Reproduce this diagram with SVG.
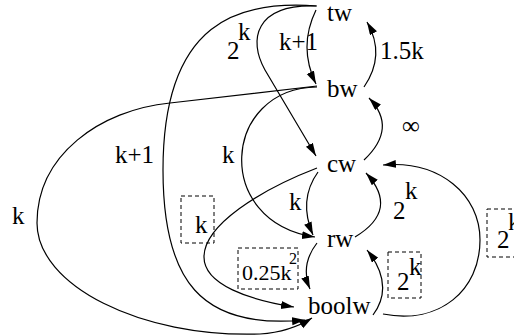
<svg xmlns="http://www.w3.org/2000/svg" width="514" height="335" viewBox="0 0 514 335">
<style>
text{font-family:"Liberation Serif","Times New Roman",serif;font-size:25px;fill:#000}
.sm{font-size:22px}
.sup2{font-size:16px}
.e{fill:none;stroke:#000;stroke-width:1.2;marker-end:url(#ah)}
.box{fill:none;stroke:#000;stroke-width:1;stroke-dasharray:4,3}
</style>
<defs>
<marker id="ah" markerUnits="userSpaceOnUse" markerWidth="14" markerHeight="9" refX="13" refY="4" orient="auto">
<path d="M0,0 L13,4 L0,8 z" fill="#000"/>
</marker>
</defs>
<rect width="514" height="335" fill="#fff"/>
<g id="connectors">
<path class="e" d="M316,10 Q298,47 316,84"/>
<path class="e" d="M364,87 Q386,55 367,22"/>
<path class="e" d="M364,160 Q398,128 369,98"/>
<path class="e" d="M316,6 C255,4 248,40 265,70 L316,156"/>
<path class="e" d="M317,6 C240,0 163,20 163,170 C163,280 200,330 305,320"/>
<path class="e" d="M317,86 L170,103 C100,110 37,155 37,223 C37,285 140,338 260,334 Q290,332 312,318"/>
<path class="e" d="M317,87 C222,88 212,222 315,237"/>
<path class="e" d="M317,168 C260,190 204,225 204,257 C204,285 250,300 294,307"/>
<path class="e" d="M318,172 Q298,200 313,235"/>
<path class="e" d="M355,237 Q400,210 366,173"/>
<path class="e" d="M317,243 Q300,265 310,289"/>
<path class="e" d="M373,315 Q395,285 367,250"/>
<path class="e" d="M383,314 C440,325 480,290 480,240 C480,195 440,160 383,165"/>
</g>
<g id="tw"><text x="327" y="21">tw</text></g>
<g id="bw"><text x="327" y="97">bw</text></g>
<g id="cw"><text x="327" y="172">cw</text></g>
<g id="rw"><text x="327" y="247">rw</text></g>
<g id="boolw"><text x="308" y="314">boolw</text></g>
<g id="labels">
<text x="227" y="59">2</text><text x="238" y="40">k</text>
<text x="279" y="50">k+1</text>
<text x="380" y="59">1.5k</text>
<text x="402" y="134">∞</text>
<text x="222" y="163">k</text>
<text x="115" y="163">k+1</text>
<text x="12" y="224">k</text>
<rect class="box" x="181" y="196" width="33" height="47"/>
<text x="195" y="233">k</text>
<text x="289" y="210">k</text>
<text x="393" y="219">2</text><text x="405" y="199">k</text>
<rect class="box" x="238" y="248" width="60" height="41"/>
<text class="sm" x="242" y="280">0.25k</text><text class="sup2" x="289" y="264">2</text>
<rect class="box" x="388" y="252" width="33" height="46"/>
<text x="397" y="290">2</text><text x="409" y="275">k</text>
<rect class="box" x="487" y="209" width="40" height="48"/>
<text x="497" y="248">2</text><text x="508" y="230">k</text>
</g>
</svg>
